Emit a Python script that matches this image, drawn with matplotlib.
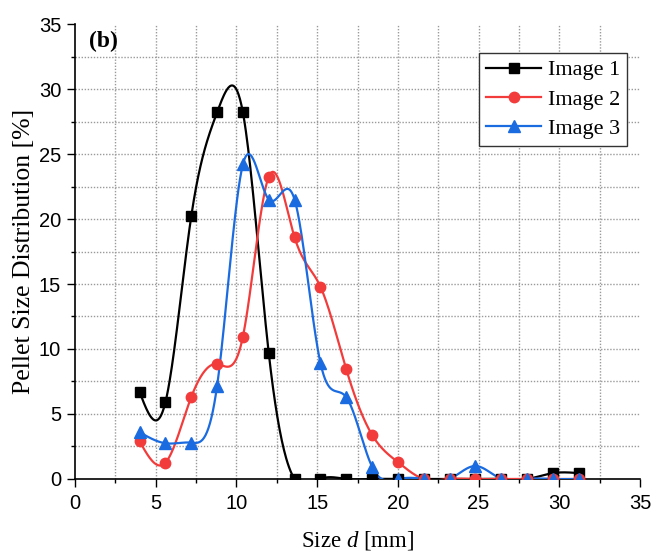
import numpy as np
import matplotlib
matplotlib.use("Agg")
import matplotlib.pyplot as plt

# ============================================================
# Data
# ============================================================
size_mm = [4.0, 5.6, 7.2, 8.8, 10.4, 12.0, 13.6, 15.2, 16.8, 18.4,
           20.0, 21.6, 23.2, 24.8, 26.4, 28.0, 29.6, 31.2]
image1 = [6.7, 5.9, 20.2, 28.2, 28.2, 9.7, 0.0, 0.0, 0.0, 0.0,
          0.0, 0.0, 0.0, 0.0, 0.0, 0.0, 0.45, 0.45]
image2 = [2.9, 1.25, 6.3, 8.85, 10.95, 23.25, 18.6, 14.8, 8.45, 3.4,
          1.3, 0.0, 0.0, 0.0, 0.0, 0.0, 0.0, 0.0]
image3 = [3.6, 2.75, 2.8, 7.15, 24.2, 21.5, 21.5, 8.95, 6.3, 0.95,
          0.0, 0.0, 0.0, 1.0, 0.0, 0.0, 0.0, 0.0]

series = [
    ("Image 1", image1, "black", "s", 6.5),
    ("Image 2", image2, "#F23C3C", "o", 7.5),
    ("Image 3", image3, "#1B6BE0", "^", 8.5),
]

plt.rcParams.update({
    "font.family": "Liberation Sans",
    "mathtext.fontset": "custom",
    "mathtext.rm": "Liberation Serif",
    "mathtext.it": "Liberation Serif:italic",
})


def natural_spline(x, y, n=600):
    """Natural cubic spline through (x, y)."""
    x = np.asarray(x, float)
    y = np.asarray(y, float)
    m = len(x)
    h = np.diff(x)
    A = np.zeros((m, m))
    b = np.zeros(m)
    A[0, 0] = A[-1, -1] = 1.0
    for i in range(1, m - 1):
        A[i, i - 1] = h[i - 1]
        A[i, i] = 2 * (h[i - 1] + h[i])
        A[i, i + 1] = h[i]
        b[i] = 6 * ((y[i + 1] - y[i]) / h[i] - (y[i] - y[i - 1]) / h[i - 1])
    M = np.linalg.solve(A, b)
    xs = np.linspace(x[0], x[-1], n)
    idx = np.clip(np.searchsorted(x, xs) - 1, 0, m - 2)
    x0, x1 = x[idx], x[idx + 1]
    hh = x1 - x0
    t0, t1 = x1 - xs, xs - x0
    ys = (M[idx] * t0 ** 3 / (6 * hh) + M[idx + 1] * t1 ** 3 / (6 * hh)
          + (y[idx] / hh - M[idx] * hh / 6) * t0
          + (y[idx + 1] / hh - M[idx + 1] * hh / 6) * t1)
    return xs, ys


fig = plt.figure(figsize=(6.65, 5.51), dpi=100)
ax = fig.add_axes([0.1128, 0.1307, 0.8496, 0.8257])

# dotted grid (no line at 35)
for v in np.arange(2.5, 35, 2.5):
    ax.axvline(v, color="#9A9A9A", lw=1.0, ls=(0, (1, 1.2)), zorder=0)
    ax.axhline(v, color="#9A9A9A", lw=1.0, ls=(0, (1, 1.2)), zorder=0)

handles = []
for label, vals, color, marker, ms in series:
    xs, ys = natural_spline(size_mm, vals)
    ax.plot(xs, ys, color=color, lw=1.6, zorder=3)
    ax.plot(size_mm, vals, ls="none", marker=marker, ms=ms, color=color, zorder=4)
    h, = ax.plot([], [], color=color, lw=1.6, marker=marker, ms=ms)
    handles.append(h)

ax.set_xlim(0, 35)
ax.set_ylim(0, 35)
ax.set_xticks(np.arange(0, 36, 5))
ax.set_yticks(np.arange(0, 36, 5))
ax.set_xticks(np.arange(2.5, 35, 5), minor=True)
ax.set_yticks(np.arange(2.5, 35, 5), minor=True)
ax.tick_params(which="major", direction="out", length=6, width=1.0, labelsize=14.5, pad=4)
ax.tick_params(axis="x", which="major", pad=5)
ax.tick_params(which="minor", direction="out", length=3, width=1.0)

ax.spines["top"].set_visible(False)
ax.spines["right"].set_visible(False)
for s in ("left", "bottom"):
    ax.spines[s].set_linewidth(1.2)

ax.set_xlabel("Size $d$ [mm]", family="Liberation Serif", fontsize=16.5, labelpad=11)
ax.set_ylabel("Pellet Size Distribution [%]", family="Liberation Serif", fontsize=18.5, labelpad=3)

ax.text(0.025, 0.985, "(b)", transform=ax.transAxes, family="Liberation Serif",
        fontweight="bold", fontsize=17, ha="left", va="top")

leg = ax.legend(handles, [s[0] for s in series], loc="upper right",
                bbox_to_anchor=(0.977, 0.936), prop={"family": "Liberation Serif", "size": 16},
                fancybox=False, edgecolor="#333333", framealpha=1,
                handlelength=2.5, handletextpad=0.3, borderpad=0.3, labelspacing=0.4,
                borderaxespad=0)
leg.get_frame().set_linewidth(1.0)

fig.savefig("out.png", dpi=100)
